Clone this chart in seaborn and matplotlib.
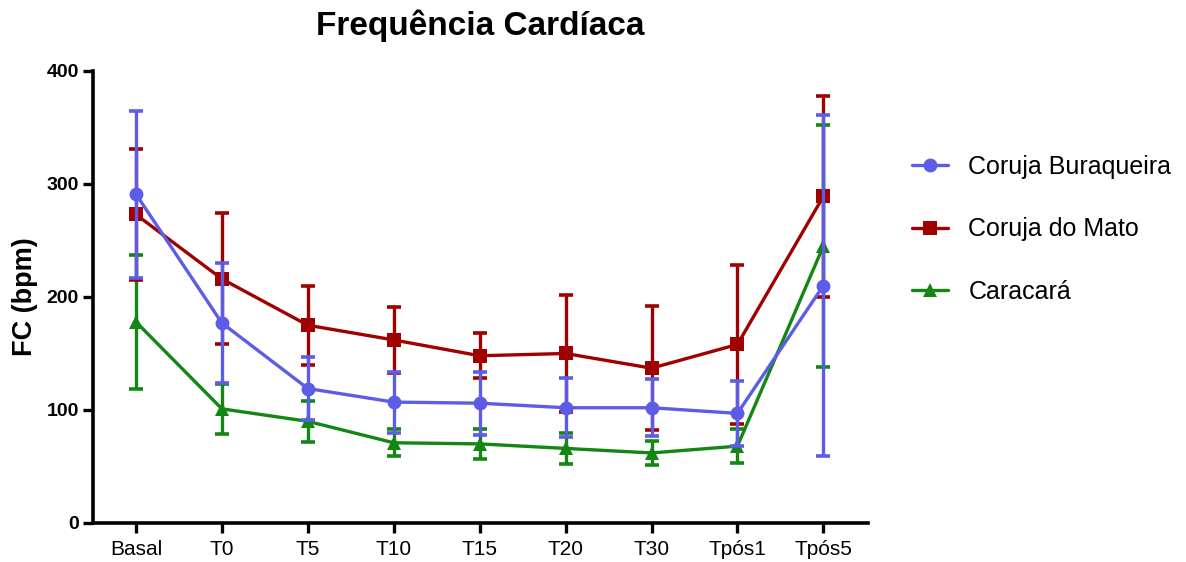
import matplotlib
matplotlib.use("Agg")
import matplotlib.pyplot as plt
import seaborn as sns
import pandas as pd
from matplotlib.lines import Line2D

categories = ["Basal", "T0", "T5", "T10", "T15", "T20", "T30", "Tpós1", "Tpós5"]

buraqueira_mean = [291, 177, 119, 107, 106, 102, 102, 97, 210]
buraqueira_sd = [74, 53, 28, 27, 28, 26, 25, 29, 151]

mato_mean = [273, 216, 175, 162, 148, 150, 137, 158, 289]
mato_sd = [58, 58, 35, 29, 20, 52, 55, 70, 89]

caracara_mean = [178, 101, 90, 71, 70, 66, 62, 68, 245]
caracara_sd = [59, 22, 18, 12, 13, 14, 11, 15, 107]

series_names = ["Coruja Buraqueira", "Coruja do Mato", "Caracará"]
colors = ["#5C5CE6", "#A00000", "#138613"]
markers = ["o", "s", "^"]

sns.set_theme(style="white")
plt.rcParams["font.family"] = ["Liberation Sans", "DejaVu Sans"]
plt.rcParams["text.color"] = "black"

fig = plt.figure(figsize=(11.86, 5.62), dpi=100)
ax = fig.add_axes([0.0784, 0.0694, 0.6535, 0.8043])

means = [buraqueira_mean, mato_mean, caracara_mean]
sds = [buraqueira_sd, mato_sd, caracara_sd]
xpos = list(range(len(categories)))

# draw green first, blue on top
order = [2, 1, 0]
for i in order:
    df = pd.DataFrame({"x": xpos, "y": means[i]})
    ax.errorbar(xpos, means[i], yerr=sds[i], fmt="none", ecolor=colors[i],
                elinewidth=2.4, capsize=4.8, capthick=2.6, zorder=2 + (2 - i))
    sns.lineplot(data=df, x="x", y="y", ax=ax, color=colors[i], marker=markers[i],
                 markersize=10, markeredgewidth=0, linewidth=2.4,
                 zorder=3 + (2 - i), legend=False)

ax.set_xlim(-0.5, 8.52)
ax.set_ylim(0, 400)
ax.set_xticks(xpos)
ax.set_xticklabels(categories, fontsize=15, color="black")
ax.set_yticks([0, 100, 200, 300, 400])
ax.set_yticklabels(["0", "100", "200", "300", "400"], fontsize=14, fontweight="bold",
                   color="black")
ax.set_xlabel("")
ax.set_ylabel("FC (bpm)", fontsize=19.5, fontweight="bold", labelpad=6, color="black")
ax.set_title("Frequência Cardíaca", fontsize=24, fontweight="bold", pad=26, color="black")

for s in ["top", "right"]:
    ax.spines[s].set_visible(False)
for s in ["left", "bottom"]:
    ax.spines[s].set_color("black")
    ax.spines[s].set_linewidth(2.6)
ax.tick_params(axis="both", which="both", direction="out", length=7, width=2.4,
               color="black", labelcolor="black", bottom=True, left=True)
ax.tick_params(axis="x", pad=5)
ax.tick_params(axis="y", pad=3)

handles = [Line2D([0], [0], color=colors[i], marker=markers[i], markersize=10,
                  markeredgewidth=0, linewidth=2.4) for i in range(3)]
fig.legend(handles, series_names, loc="upper left", bbox_to_anchor=(0.75, 0.764),
           frameon=False, fontsize=18, handlelength=1.45, handletextpad=0.8,
           labelspacing=1.53)

fig.savefig("out.png", dpi=100)
